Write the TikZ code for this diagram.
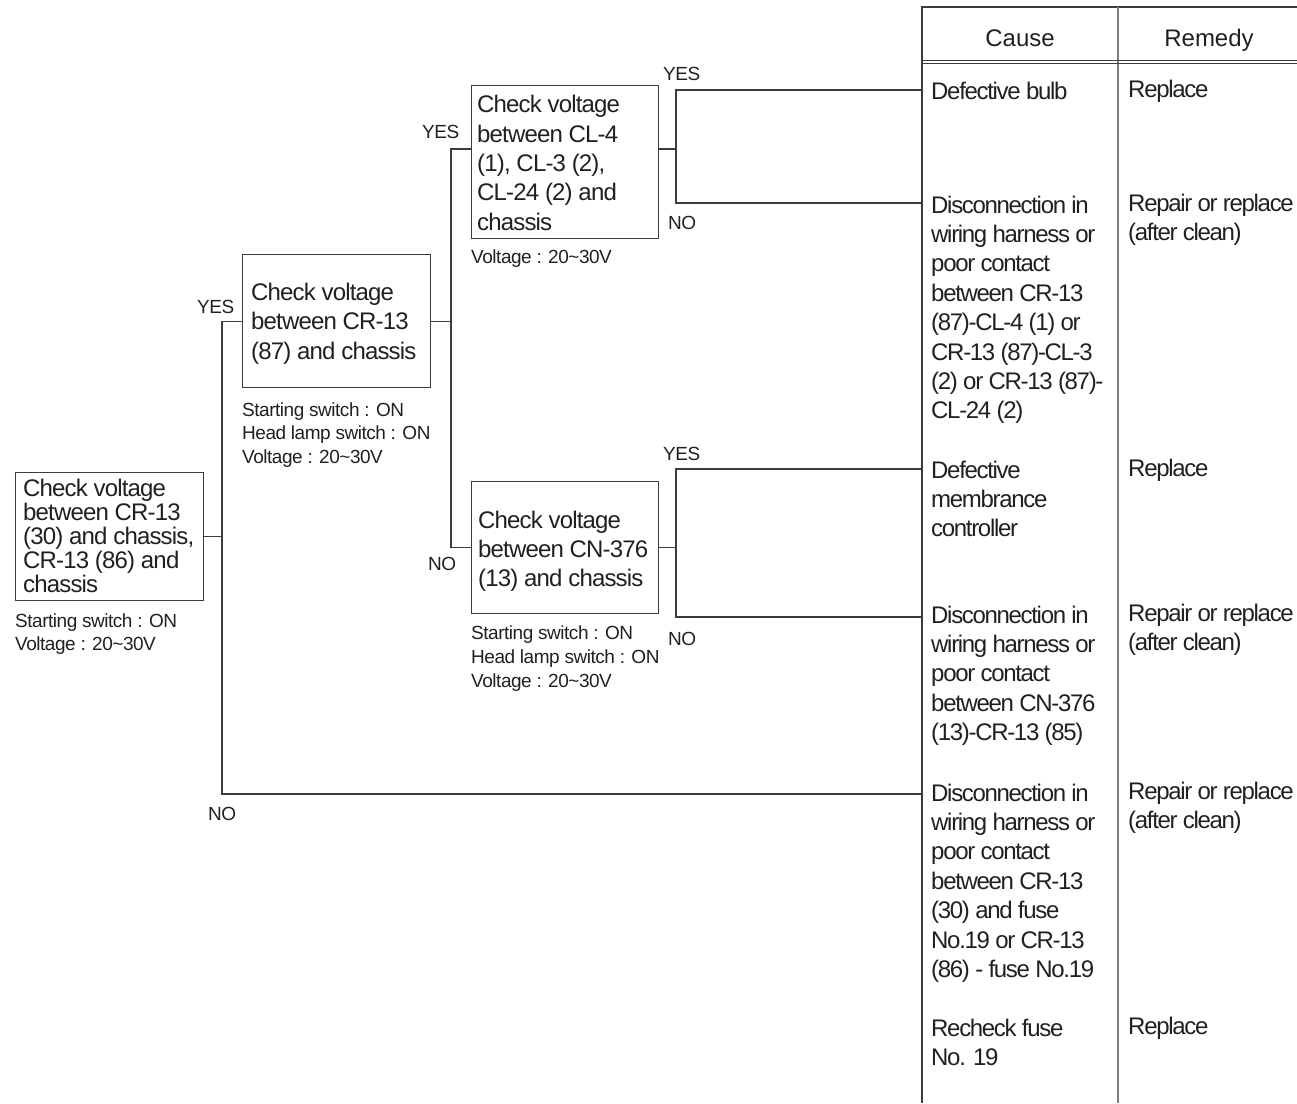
\documentclass[tikz,border=0pt]{standalone}
\usepackage{fontspec}
\setmainfont{Liberation Sans}
\newfontfamily\boxf[LetterSpace=-3.5]{Liberation Sans}
\newfontfamily\tabf[LetterSpace=-5.5]{Liberation Sans}
\newfontfamily\smf[LetterSpace=-2.5]{Liberation Sans}
\definecolor{txtcol}{RGB}{35,31,32}
\definecolor{linecol}{RGB}{60,60,60}
\definecolor{midcol}{RGB}{125,125,125}
\begin{document}
\begin{tikzpicture}[x=1pt,y=-1pt,
  box/.style={draw=linecol,line width=1.4pt,inner sep=0pt,anchor=north west},
  ln/.style={draw=linecol,line width=1.1pt},
  txt/.style={inner sep=0pt,anchor=base west,align=left,text=txtcol},
  big/.style={txt,font=\boxf\fontsize{24}{29.5}\selectfont},
  sm/.style={txt,font=\smf\fontsize{19}{23.5}\selectfont},
  tab/.style={txt,font=\tabf\fontsize{24}{29.4}\selectfont},
  hdr/.style={inner sep=0pt,anchor=base,text=txtcol,font=\fontsize{24}{29}\selectfont}]
\useasboundingbox (0,0) rectangle (1297,1103);

% boxes
\node[box,minimum width=188pt,minimum height=128pt] (b1) at (15,472) {};
\node[box,minimum width=188pt,minimum height=133pt] (b2) at (242,254) {};
\node[box,minimum width=187pt,minimum height=153pt] (b3) at (471,85) {};
\node[box,minimum width=187pt,minimum height=132pt] (b4) at (471,481) {};

% box texts (anchor = baseline of last line)
\node[txt,font=\boxf\fontsize{24}{24}\selectfont] (t1) at (23,592)
  {Check voltage\\between CR-13\\(30) and chassis,\\CR-13 (86) and\\chassis};
\node[big] (t2) at (251,359) {Check voltage\\between CR-13\\(87) and chassis};
\node[big,font=\boxf\fontsize{24}{29.3}\selectfont] (t3) at (477,230)
  {Check voltage\\between CL-4\\(1), CL-3 (2),\\CL-24 (2) and\\chassis};
\node[big,font=\boxf\fontsize{24}{29}\selectfont] (t4) at (478,586)
  {Check voltage\\between CN-376\\(13) and chassis};

% conditions
\node[sm,font=\smf\fontsize{19}{23}\selectfont] (s1) at (15,650)
  {Starting switch : ON\\Voltage : 20\textasciitilde30V};
\node[sm] (s2) at (242,463)
  {Starting switch : ON\\Head lamp switch : ON\\Voltage : 20\textasciitilde30V};
\node[sm] (s3) at (471,263) {Voltage : 20\textasciitilde30V};
\node[sm,font=\smf\fontsize{19}{24}\selectfont] (s4) at (471,687)
  {Starting switch : ON\\Head lamp switch : ON\\Voltage : 20\textasciitilde30V};

% YES / NO labels
\node[sm] (y1) at (197,313) {YES};
\node[sm] (y2) at (422,138) {YES};
\node[sm] (n2) at (428,570) {NO};
\node[sm] (y3) at (663,80) {YES};
\node[sm] (n3) at (668,229) {NO};
\node[sm] (y4) at (663,460) {YES};
\node[sm] (n4) at (668,645) {NO};
\node[sm] (n1) at (208,820) {NO};

% table frame
\coordinate (tTL) at (922,7);
\coordinate (tTR) at (1297,7);
\coordinate (tBL) at (922,1103);
\coordinate (tMT) at (1118,7);
\coordinate (tMB) at (1118,1103);
\coordinate (hL1) at (922,60);
\coordinate (hR1) at (1297,60);
\coordinate (hL2) at (922,63.5);
\coordinate (hR2) at (1297,63.5);
\draw[draw=linecol,line width=1.5pt] (tBL) -- (tTL) -- (tTR);
\draw[draw=midcol,line width=1.1pt] (tMT) -- (tMB);
\draw[draw=linecol,line width=1pt] (hL1) -- (hR1);
\draw[draw=linecol,line width=1pt] (hL2) -- (hR2);

\node[hdr] (h1) at (1020,46) {Cause};
\node[hdr] (h2) at (1209,46) {Remedy};

% table rows (anchor = baseline of last line)
\node[tab] (c1) at (931,99) {Defective bulb};
\node[tab] (m1) at (1128,97) {Replace};
\node[tab] (c2) at (931,418.8) {Disconnection in\\wiring harness or\\poor contact\\between CR-13\\(87)-CL-4 (1) or\\CR-13 (87)-CL-3\\(2) or CR-13 (87)-\\CL-24 (2)};
\node[tab] (m2) at (1128,240.4) {Repair or replace\\(after clean)};
\node[tab] (c3) at (931,536.8) {Defective\\membrance\\controller};
\node[tab] (m3) at (1128,476) {Replace};
\node[tab] (c4) at (931,740.6) {Disconnection in\\wiring harness or\\poor contact\\between CN-376\\(13)-CR-13 (85)};
\node[tab] (m4) at (1128,650.4) {Repair or replace\\(after clean)};
\node[tab] (c5) at (931,977.4) {Disconnection in\\wiring harness or\\poor contact\\between CR-13\\(30) and fuse\\No.19 or CR-13\\(86) - fuse No.19};
\node[tab] (m5) at (1128,828.4) {Repair or replace\\(after clean)};
\node[tab] (c6) at (931,1065.4) {Recheck fuse\\No. 19};
\node[tab] (m6) at (1128,1034) {Replace};

% junction coordinates
\coordinate (ja) at (222,794);
\coordinate (jb) at (451,149);
\coordinate (jc) at (676,0);
\coordinate (r1) at (922,90);
\coordinate (r2) at (922,203);
\coordinate (r3) at (922,469);
\coordinate (r4) at (922,617);
\coordinate (r5) at (922,794);

% connectors
\draw[ln] (b1.east) -- (b1.east -| ja);
\draw[ln] (b2.west) -| (ja) -- (r5);
\draw[ln] (b2.east) -- (b2.east -| jb);
\draw[ln] (b3.west |- jb) -- (jb) |- (b4.west);
\draw[ln] (b3.east |- jb) -- (jb -| jc);
\draw[ln] (r1) -- (r1 -| jc) -- (r2 -| jc) -- (r2);
\draw[ln] (b4.east) -- (b4.east -| jc);
\draw[ln] (r3) -- (r3 -| jc) -- (r4 -| jc) -- (r4);
\end{tikzpicture}
\end{document}
